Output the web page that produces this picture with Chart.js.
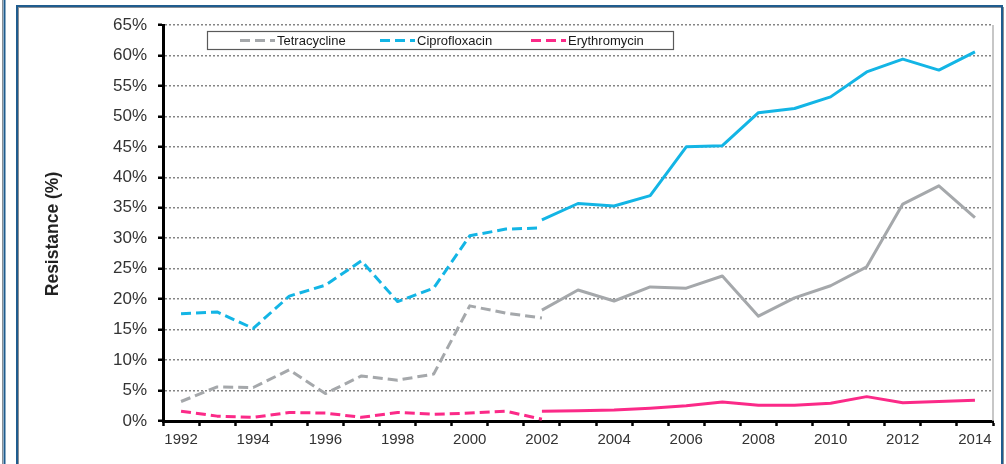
<!DOCTYPE html>
<html><head><meta charset="utf-8">
<script src="https://cdn.jsdelivr.net/npm/chart.js@4"></script>
<style>html,body{margin:0;padding:0;background:#fff}canvas{display:block}</style>
</head><body>
<canvas id="c" width="1006" height="464"></canvas>
<script>
const years = ['1992','1993','1994','1995','1996','1997','1998','1999','2000','2001','2002','2003','2004','2005','2006','2007','2008','2009','2010','2011','2012','2013','2014'];
const N = null;
const tetraEarly = [3.2,5.6,5.5,8.4,4.5,7.4,6.7,7.7,18.9,17.7,16.9,N,N,N,N,N,N,N,N,N,N,N,N];
const tetraLate  = [N,N,N,N,N,N,N,N,N,N,18.2,21.5,19.7,22.0,21.8,23.8,17.2,20.2,22.2,25.3,35.6,38.6,33.4];
const ciproEarly = [17.6,17.9,15.2,20.5,22.3,26.3,19.6,21.8,30.4,31.5,31.7,N,N,N,N,N,N,N,N,N,N,N,N];
const ciproLate  = [N,N,N,N,N,N,N,N,N,N,33.0,35.7,35.3,37.0,45.0,45.2,50.6,51.3,53.2,57.3,59.4,57.6,60.6];
const eryEarly   = [1.6,0.8,0.6,1.4,1.3,0.6,1.4,1.1,1.3,1.6,0.3,N,N,N,N,N,N,N,N,N,N,N,N];
const eryLate    = [N,N,N,N,N,N,N,N,N,N,1.6,1.7,1.8,2.1,2.5,3.1,2.6,2.6,2.9,4.0,3.0,3.2,3.4];
const yTicks = [0,5,10,15,20,25,30,35,40,45,50,55,60,65];
const seriesNames = ['Tetracycline','Ciprofloxacin','Erythromycin'];
const colors = ['#a5a8ab','#13b5e5','#fb2a88'];
const yTitle = 'Resistance (%)';

const FONT = "'Liberation Sans', Arial, sans-serif";
const DASH = [10,5];

function ds(label, data, color, dashed, inLegend) {
  return {label, data, borderColor: color, backgroundColor: color, borderWidth: 3,
    borderDash: dashed ? DASH : [], pointRadius: 0, pointHoverRadius: 0, tension: 0,
    spanGaps: false, fill: false, inLegend, borderCapStyle: 'butt', borderJoinStyle: 'round'};
}

const decor = {
  id: 'decor',
  beforeDraw(chart) {
    const ctx = chart.ctx;
    ctx.save();
    ctx.fillStyle = '#fff';
    ctx.fillRect(0, 0, chart.width, chart.height);
    ctx.strokeStyle = '#8a8f96'; ctx.lineWidth = 1;
    ctx.beginPath(); ctx.moveTo(2.5, 0); ctx.lineTo(2.5, 464); ctx.stroke();
    ctx.strokeStyle = '#1f5c8e'; ctx.lineWidth = 2;
    ctx.beginPath(); ctx.moveTo(4.5, 0); ctx.lineTo(4.5, 464); ctx.stroke();
    ctx.strokeStyle = '#8a8f96'; ctx.lineWidth = 1;
    ctx.strokeRect(18.5, 7.5, 985, 470);
    ctx.strokeStyle = '#1f5c8e'; ctx.lineWidth = 2;
    ctx.strokeRect(17, 6, 985, 470);
    ctx.restore();
  },
  afterDatasetsDraw(chart) {
    const ctx = chart.ctx, a = chart.chartArea;
    ctx.save();
    ctx.strokeStyle = '#b5b5b5'; ctx.lineWidth = 1.5;
    ctx.beginPath(); ctx.moveTo(a.right, a.top); ctx.lineTo(a.right, a.bottom); ctx.stroke();
    ctx.fillStyle = '#222';
    ctx.font = 'bold 17.5px ' + FONT;
    ctx.textAlign = 'center'; ctx.textBaseline = 'middle';
    ctx.translate(53, 234); ctx.rotate(-Math.PI / 2);
    ctx.fillText(yTitle, 0, 0);
    ctx.restore();
    ctx.save();
    ctx.fillStyle = '#fff';
    ctx.fillRect(207, 31, 466, 18);
    ctx.strokeStyle = '#5a5a5a'; ctx.lineWidth = 1.2;
    ctx.strokeRect(207.5, 31.5, 466, 18);
    const xs = [240, 380, 531];
    const items = chart.data.datasets.filter(d => d.inLegend);
    ctx.font = '13px ' + FONT;
    ctx.textBaseline = 'middle'; ctx.textAlign = 'left';
    items.forEach((d, i) => {
      ctx.strokeStyle = d.borderColor; ctx.lineWidth = 3;
      ctx.setLineDash(DASH);
      ctx.beginPath(); ctx.moveTo(xs[i], 40.5); ctx.lineTo(xs[i] + 35, 40.5); ctx.stroke();
      ctx.setLineDash([]);
      ctx.fillStyle = '#1a1a1a';
      ctx.fillText(d.label, xs[i] + 37, 41);
    });
    ctx.restore();
  }
};

new Chart(document.getElementById('c'), {
  type: 'line',
  data: {
    labels: years,
    datasets: [
      ds(seriesNames[0], tetraEarly, colors[0], true, true),
      ds(seriesNames[1], ciproEarly, colors[1], true, true),
      ds(seriesNames[2], eryEarly, colors[2], true, true),
      ds(seriesNames[0], tetraLate, colors[0], false, false),
      ds(seriesNames[1], ciproLate, colors[1], false, false),
      ds(seriesNames[2], eryLate, colors[2], false, false)
    ]
  },
  plugins: [decor],
  options: {
    responsive: false, animation: false, devicePixelRatio: 1,
    layout: {padding: {left: 0, right: 13, top: 25, bottom: 0}},
    plugins: {legend: {display: false}, tooltip: {enabled: false}, title: {display: false}},
    scales: {
      x: {
        offset: true,
        grid: {offset: true, drawOnChartArea: false, drawTicks: true, tickLength: 5,
               tickColor: '#000', tickWidth: 2.5},
        border: {display: true, color: '#000', width: 3},
        ticks: {autoSkip: false, maxRotation: 0, padding: 5, color: '#333',
                font: {family: FONT, size: 15},
                callback: (v, i) => (i % 2 === 0 ? years[i] : '')},
        afterFit: s => { s.height = 43; }
      },
      y: {
        min: 0, max: 65,
        afterBuildTicks: s => { s.ticks = yTicks.map(v => ({value: v})); },
        grid: {color: '#858585', lineWidth: 1.5, tickLength: 5,
               tickColor: '#000', tickWidth: 2.5, tickBorderDash: []},
        border: {display: true, color: '#000', width: 3, dash: [2, 2]},
        ticks: {padding: 11, color: '#333', font: {family: FONT, size: 17},
                callback: v => v + '%'},
        afterFit: s => { s.width = 163; }
      }
    }
  }
});
</script>
</body></html>
